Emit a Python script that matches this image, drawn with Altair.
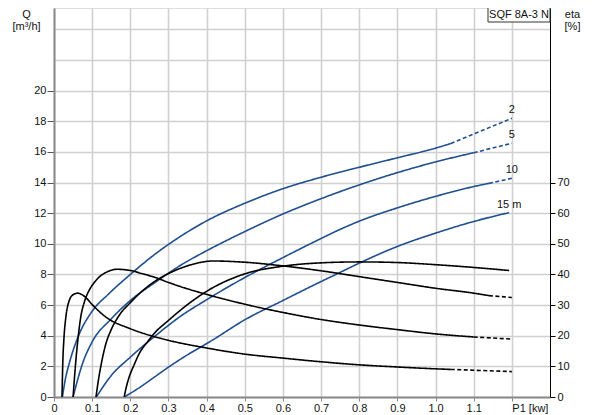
import altair as alt
import pandas as pd

# ---- data ----
heads = ["2", "5", "10", "15 m"]

# Flow Q [m3/h] vs P1 [kW]
q2_p = [0.022, 0.03, 0.04, 0.066, 0.1, 0.144, 0.2, 0.266, 0.331, 0.4, 0.5, 0.6, 0.7, 0.8, 0.9, 1.0, 1.04, 1.2]
q2_v = [0, 1.2, 2.2, 4.1, 5.6, 6.75, 8.0, 9.35, 10.48, 11.5, 12.65, 13.6, 14.35, 15.0, 15.62, 16.25, 16.55, 18.2]
q5_p = [0.05, 0.075, 0.1, 0.15, 0.2, 0.266, 0.335, 0.4, 0.5, 0.6, 0.7, 0.8, 0.9, 1.0, 1.1, 1.2]
q5_v = [0, 2.2, 3.6, 5.1, 6.3, 7.5, 8.65, 9.55, 10.8, 11.95, 12.95, 13.85, 14.65, 15.35, 15.95, 16.57]
q10_p = [0.111, 0.15, 0.2, 0.266, 0.331, 0.4, 0.5, 0.6, 0.7, 0.746, 0.8, 0.9, 1.0, 1.1, 1.14, 1.2]
q10_v = [0, 1.4, 2.6, 4.0, 5.26, 6.35, 7.8, 9.1, 10.35, 10.9, 11.48, 12.35, 13.1, 13.74, 13.95, 14.28]
q15_p = [0.184, 0.22, 0.266, 0.3, 0.34, 0.417, 0.5, 0.6, 0.7, 0.746, 0.8, 0.9, 1.0, 1.1, 1.193]
q15_v = [0, 0.55, 1.35, 1.95, 2.6, 3.74, 5.04, 6.3, 7.54, 8.09, 8.74, 9.83, 10.7, 11.46, 12.04]

# Efficiency eta [%] vs P1 [kW]
e2_p = [0.021, 0.023, 0.026, 0.031, 0.04, 0.05, 0.0615, 0.072, 0.083, 0.1, 0.136, 0.2, 0.266, 0.3, 0.4, 0.5, 0.6, 0.7, 0.8, 0.9, 1.0, 1.04, 1.2]
e2_v = [0, 11, 19, 26, 31.5, 33.4, 33.9, 33.5, 32.5, 30.2, 26.1, 22.3, 19.6, 18.5, 16, 14.0, 12.7, 11.5, 10.5, 9.8, 9.2, 9.0, 8.3]
e5_p = [0.05, 0.056, 0.062, 0.07, 0.08, 0.092, 0.105, 0.118, 0.14, 0.165, 0.2, 0.23, 0.266, 0.3, 0.34, 0.4, 0.5, 0.6, 0.7, 0.8, 0.9, 1.0, 1.1, 1.2]
e5_v = [0, 10, 18, 26, 31.2, 34.8, 37.3, 39.1, 40.9, 41.7, 41.3, 40.3, 39, 37.4, 35.7, 33.5, 30.3, 27.6, 25.3, 23.5, 22, 20.6, 19.6, 18.9]
e10_p = [0.11, 0.117, 0.125, 0.136, 0.15, 0.17, 0.2, 0.25, 0.3, 0.331, 0.36, 0.417, 0.5, 0.6, 0.7, 0.8, 0.9, 1.0, 1.1, 1.14, 1.2]
e10_v = [0, 6, 11.5, 17.4, 22, 26.5, 30.8, 36.5, 40.3, 42, 43.2, 44.4, 44, 42.8, 41.2, 39.3, 37.4, 35.5, 33.9, 33.1, 32.5]
e15_p = [0.184, 0.19, 0.197, 0.21, 0.223, 0.245, 0.266, 0.3, 0.331, 0.4, 0.5, 0.6, 0.7, 0.8, 0.9, 1.0, 1.1, 1.193]
e15_v = [0, 3.5, 6.5, 10.5, 14.1, 18, 21.2, 25, 28.3, 34.5, 40.2, 42.7, 43.8, 44.1, 43.9, 43.2, 42.3, 41.3]

# P1 where each curve turns dashed (None = solid to the end)
dash_from = [1.04, 1.1, 1.14, None]

x_ticks = [0, 0.1, 0.2, 0.3, 0.4, 0.5, 0.6, 0.7, 0.8, 0.9, 1.0, 1.1, 1.2]
q_ticks = [0, 2, 4, 6, 8, 10, 12, 14, 16, 18, 20, 22, 24]
eta_ticks = [0, 10, 20, 30, 40, 50, 60, 70]
type_label = ["SQF 8A-3 N"]

BLUE = "#1f4f8e"
FONT = "Liberation Sans"
Q_MAX = 25.4


def build(plist, vlist, head, split):
    rows = []
    for i, (p, v) in enumerate(zip(plist, vlist)):
        if split is None or p <= split + 1e-9:
            rows.append({"P1": p, "val": v, "head": head, "seg": "solid", "o": i})
        if split is not None and p >= split - 1e-9:
            rows.append({"P1": p, "val": v, "head": head, "seg": "dashed", "o": i})
    return rows


q_rows, e_rows = [], []
for h, pl, vl, s in zip(heads, [q2_p, q5_p, q10_p, q15_p], [q2_v, q5_v, q10_v, q15_v], dash_from):
    q_rows += build(pl, vl, h, s)
for h, pl, vl, s in zip(heads, [e2_p, e5_p, e10_p, e15_p], [e2_v, e5_v, e10_v, e15_v], dash_from):
    e_rows += build(pl, vl, h, s)
q_df = pd.DataFrame(q_rows)
e_df = pd.DataFrame(e_rows)
q_df["grp"] = q_df["head"] + "_" + q_df["seg"]
e_df["grp"] = e_df["head"] + "_" + e_df["seg"]

end_df = pd.DataFrame({
    "head": heads,
    "P1": [q2_p[-1], q5_p[-1], q10_p[-1], q15_p[-1]],
    "val": [q2_v[-1], q5_v[-1], q10_v[-1], q15_v[-1]],
})

x_scale = alt.Scale(domain=[0, 1.3], nice=False, zero=False)
x_axis = alt.Axis(
    values=x_ticks, title=None, grid=True, gridColor="#d0d0d0", gridWidth=1.6,
    domainColor="#8a8a8a", domainWidth=2, tickColor="#8a8a8a", tickSize=4,
    labelPadding=1, labelFont=FONT, labelFontSize=11, labelColor="#111",
    labelExpr="datum.value == 0 ? '0' : (datum.value > 1.15 ? 'P1 [kw]' : format(datum.value, '.1f'))",
    labelAlign={"condition": {"test": "datum.value > 1.15", "value": "left"}, "value": "center"},
    labelFlush=False, labelOverlap=False,
)
x_enc = alt.X("P1:Q", scale=x_scale, axis=x_axis)

q_scale = alt.Scale(domain=[0, Q_MAX], nice=False, zero=False)
eta_scale = alt.Scale(domain=[0, Q_MAX * 5], nice=False, zero=False)

q_axis = alt.Axis(
    values=q_ticks, grid=True, gridColor="#d0d0d0", gridWidth=1.6,
    title=["Q", "[m³/h]"], titleAngle=0, titleAlign="center", titleBaseline="top",
    titleX=-28, titleY=0, titleFont=FONT, titleFontSize=11, titleFontWeight="normal",
    titleColor="#111", titleLineHeight=12,
    domainColor="#8a8a8a", domainWidth=2, tickColor="#555", tickSize=7,
    tickOpacity={"condition": {"test": "datum.value > 20", "value": 0}, "value": 1},
    labelExpr="datum.value > 20 ? '' : datum.label",
    labelOverlap=False,
    labelPadding=1, labelFont=FONT, labelFontSize=11, labelColor="#111",
)

dash_scale = alt.Scale(domain=["solid", "dashed"], range=[[1, 0], [4, 2.5]])

q_lines = alt.Chart(q_df).mark_line(color=BLUE, strokeWidth=1.6, interpolate="monotone", clip=True).encode(
    x=x_enc,
    y=alt.Y("val:Q", scale=q_scale, axis=q_axis),
    detail="grp:N",
    order="o:Q",
    strokeDash=alt.StrokeDash("seg:N", scale=dash_scale, legend=None),
)

q_text = alt.Chart(end_df).mark_text(
    font=FONT, fontSize=11, color="#111", baseline="bottom", align="center", dy=-3
).encode(
    x=x_enc,
    y=alt.Y("val:Q", scale=q_scale, axis=q_axis),
    text="head:N",
)

eta_lines = alt.Chart(e_df).mark_line(color="#000", strokeWidth=1.6, interpolate="monotone", clip=True).encode(
    x=x_enc,
    y=alt.Y(
        "val:Q", scale=eta_scale,
        axis=alt.Axis(
            orient="right", values=eta_ticks, grid=False,
            title=["eta", "[%]"], titleAngle=0, titleAlign="center", titleBaseline="top",
            titleX=22, titleY=0, titleFont=FONT, titleFontSize=11, titleFontWeight="normal",
            titleColor="#111", titleLineHeight=12,
            domainColor="#000", domainWidth=1, tickColor="#000", tickSize=5,
            labelOverlap=False,
            labelPadding=2, labelFont=FONT, labelFontSize=11, labelColor="#111",
        ),
    ),
    detail="grp:N",
    order="o:Q",
    strokeDash=alt.StrokeDash("seg:N", scale=dash_scale, legend=None),
)

box_df = pd.DataFrame({"label": type_label})
box = alt.Chart(box_df).mark_rect(fill="white", stroke="#333", strokeWidth=1).encode(
    x=alt.value(434), x2=alt.value(496), y=alt.value(-2), y2=alt.value(14)
)
box_text = alt.Chart(box_df).mark_text(font=FONT, fontSize=11, color="#111", align="center", baseline="middle").encode(
    x=alt.value(465), y=alt.value(7), text="label:N"
)

q_layer = alt.layer(q_lines, q_text)
chart = alt.layer(q_layer, eta_lines, box, box_text).resolve_scale(y="independent").properties(
    width=496, height=389,
    autosize=alt.AutoSizeParams(type="none"),
    padding={"left": 46, "top": 0, "right": 35, "bottom": 18},
).configure_view(stroke=None).configure(background="white")

chart.save("out.html", embed_options={"renderer": "svg", "actions": False})
